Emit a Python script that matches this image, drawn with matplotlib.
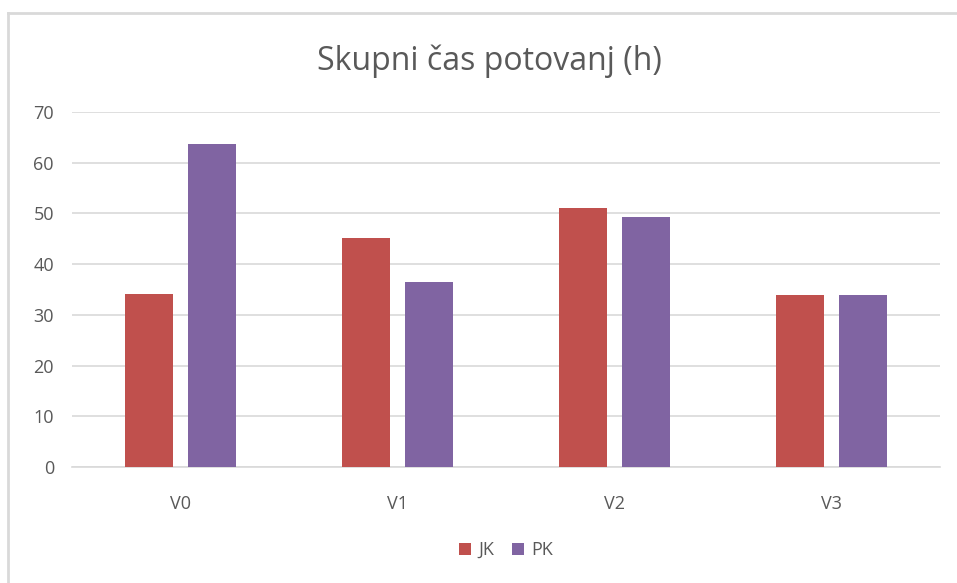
import numpy as np
import matplotlib.pyplot as plt
from matplotlib.lines import Line2D

# ================== DATA ==================
categories = ['V0', 'V1', 'V2', 'V3']
jk_values = [34.2, 45.2, 51.0, 34.0]
pk_values = [63.7, 36.5, 49.2, 34.0]
y_ticks = [0, 10, 20, 30, 40, 50, 60, 70]

title = 'Skupni čas potovanj (h)'
c_jk = '#C0504D'
c_pk = '#8064A2'
c_text = '#595959'
c_grid = '#D9D9D9'

plt.rcParams['font.family'] = ['Open Sans', 'DejaVu Sans']

# ================== FIGURE ==================
fig = plt.figure(figsize=(9.57, 5.83), dpi=100)
ax = fig.add_axes([72 / 957, 1 - 467 / 583, 868 / 957, 355 / 583])

x = np.arange(len(categories))
w = 0.225
off = 0.145
ax.bar(x - off, jk_values, w, color=c_jk, label='JK', zorder=3)
ax.bar(x + off, pk_values, w, color=c_pk, label='PK', zorder=3)

ax.set_xlim(-0.5, len(categories) - 0.5)
ax.set_ylim(0, 70)
ax.set_yticks(y_ticks)
ax.set_xticks(x)
ax.set_xticklabels(categories)
ax.yaxis.grid(True, color=c_grid, lw=1.2, zorder=0)
ax.tick_params(length=0, labelsize=13, labelcolor=c_text)
ax.tick_params(axis='y', pad=13)
ax.tick_params(axis='x', pad=20)
for s in ['top', 'right', 'left']:
    ax.spines[s].set_visible(False)
ax.spines['bottom'].set_color(c_grid)
ax.spines['bottom'].set_linewidth(1.2)

fig.text(0.511, 1 - 61 / 583, title, ha='center', va='center',
         fontsize=23, color=c_text)

ax.legend(loc='center', bbox_to_anchor=(0.5, (467 - 550) / 355),
          ncol=2, frameon=False, fontsize=13, labelcolor=c_text,
          handlelength=0.65, handleheight=0.65, handletextpad=0.4,
          columnspacing=1.0)

# chart border (partially visible)
fig.add_artist(Line2D([8 / 957, 1], [1 - 13 / 583] * 2, color=c_grid, lw=2))
fig.add_artist(Line2D([8 / 957] * 2, [0, 1 - 13 / 583], color=c_grid, lw=2))

fig.savefig('out.png', dpi=100, facecolor='white')
